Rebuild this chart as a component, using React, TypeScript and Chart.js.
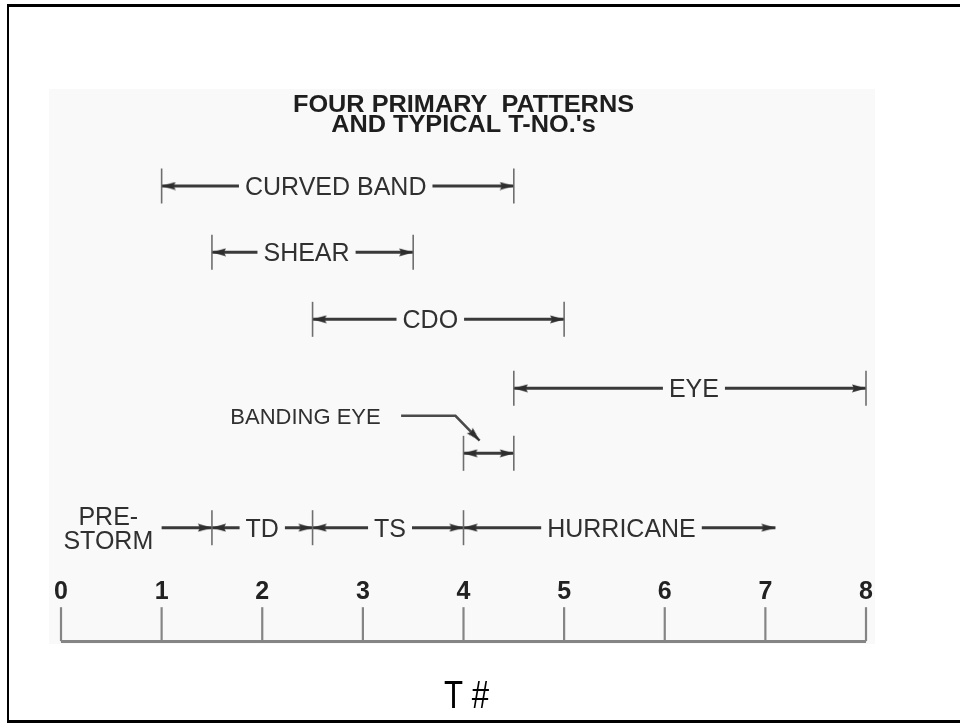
import React, { useEffect, useRef } from 'react';
import { Chart, registerables } from 'chart.js';

Chart.register(...registerables);

// ---------------- data ----------------
const T_TICKS = [0, 1, 2, 3, 4, 5, 6, 7, 8];
const TICK_LABELS = ['0', '1', '2', '3', '4', '5', '6', '7', '8'];

const PATTERN_NAMES = ['CURVED BAND', 'SHEAR', 'CDO', 'EYE'];
const PATTERN_FROM = [1, 1.5, 2.5, 4.5];
const PATTERN_TO = [4.5, 3.5, 5, 8];
const PATTERN_LABEL_AT = [2.73, 2.44, 3.67, 6.29];
const PATTERN_ROW = [0, 0.99, 1.99, 3.02];

const BANDING_NAME = 'BANDING EYE';
const BANDING_FROM = 4;
const BANDING_TO = 4.5;
const BANDING_ROW = 3.99;
const BANDING_LABEL_AT = [2.43, 3.43];
const POINTER_X = [3.38, 3.92, 4.16];
const POINTER_Y = [3.43, 3.43, 3.8];

const STAGE_NAMES = [['PRE-', 'STORM'], ['TD'], ['TS'], ['HURRICANE']];
const STAGE_FROM = [1, 1.5, 2.5, 4];
const STAGE_TO = [1.5, 2.5, 4, 7.1];
const STAGE_LABEL_AT = [0.47, 2.0, 3.27, 5.57];
const STAGE_LEFT_ARROW = [false, true, true, true];
const STAGE_BARS = [1.5, 2.5, 4];
const STAGE_ROW = 5.1;

const TICK_LABEL_ROW = 6.03;
const TICK_MARK_ROW = 6.54;
const BASE_ROW = 6.8;

const TITLE_LINES = ['FOUR PRIMARY  PATTERNS', "AND TYPICAL T-NO.'s"];
const AXIS_TITLE = 'T #';

// ---------------- styles ----------------
const PANEL = '#f9f9f9';
const INK = '#3a3a3a';
const BAR = '#6e6e6e';
const AXIS = '#858585';
const TEXT = '#303030';
const FONT = "'Liberation Sans', Arial, Helvetica, sans-serif";

const textPlugin = {
  id: 'diagramText',
  afterDatasetsDraw(chart: any) {
    const { ctx, chartArea } = chart;
    const xs = chart.scales.x;
    const ys = chart.scales.y;
    const px = (v: number) => xs.getPixelForValue(v);
    const py = (v: number) => ys.getPixelForValue(v);
    ctx.save();
    ctx.textAlign = 'center';
    ctx.textBaseline = 'alphabetic';

    const stretched = (t: string, x: number, y: number, sx: number) => {
      ctx.save();
      ctx.translate(x, y);
      ctx.scale(sx, 1);
      ctx.fillText(t, 0, 0);
      ctx.restore();
    };

    const label = (lines: string[], vx: number, vy: number, size: number, span: [number, number] | null, gap = 24) => {
      ctx.font = `${size}px ${FONT}`;
      const cx = px(vx);
      const cy = py(vy);
      const n = lines.length;
      lines.forEach((t, k) => {
        const ly = cy + (k - (n - 1) / 2) * gap;
        const w = ctx.measureText(t).width;
        if (span) {
          const l = cx - w / 2 - 6;
          const r = cx + w / 2 + 6;
          if (r > px(span[0]) && l < px(span[1])) {
            ctx.fillStyle = PANEL;
            ctx.fillRect(l, ly - size * 0.55, r - l, size * 1.1);
          }
        }
        ctx.fillStyle = TEXT;
        ctx.fillText(t, cx, ly + (size * 0.716) / 2);
      });
    };

    // title
    const cx = (chartArea.left + chartArea.right) / 2;
    ctx.fillStyle = '#1e1e1e';
    ctx.font = `bold 23px ${FONT}`;
    stretched(TITLE_LINES[0], cx, 112, 1.1);
    stretched(TITLE_LINES[1], cx, 132, 1.1);

    // pattern labels
    PATTERN_NAMES.forEach((name, i) => {
      label([name], PATTERN_LABEL_AT[i], PATTERN_ROW[i], 25, [PATTERN_FROM[i], PATTERN_TO[i]]);
    });
    // banding eye label
    label([BANDING_NAME], BANDING_LABEL_AT[0], BANDING_LABEL_AT[1], 22, null);
    // stages
    STAGE_NAMES.forEach((lines, i) => {
      label(lines, STAGE_LABEL_AT[i], STAGE_ROW, 25, [STAGE_FROM[i], STAGE_TO[i]]);
    });

    // tick labels
    ctx.font = `bold 25px ${FONT}`;
    ctx.fillStyle = '#222';
    T_TICKS.forEach((t, i) => {
      ctx.fillText(TICK_LABELS[i], px(t), py(TICK_LABEL_ROW) + (25 * 0.716) / 2);
    });

    // axis title
    ctx.fillStyle = '#000';
    ctx.font = `38px ${FONT}`;
    stretched(AXIS_TITLE, cx + 3, 708, 0.82);
    ctx.restore();
  },
};

export default function App() {
  const canvasRef = useRef<HTMLCanvasElement | null>(null);

  useEffect(() => {
    const canvas = canvasRef.current;
    if (!canvas) return;

    // arrowhead sprite: tip at the sprite centre, pointing right
    const head = document.createElement('canvas');
    head.width = 30;
    head.height = 9;
    const hc = head.getContext('2d')!;
    hc.fillStyle = '#2e2e2e';
    hc.beginPath();
    hc.moveTo(1, 0.5);
    hc.lineTo(15, 4.5);
    hc.lineTo(1, 8.5);
    hc.lineTo(3, 4.5);
    hc.closePath();
    hc.fill();

    const datasets: any[] = [];
    const heads: { x: number; y: number; r: number | null }[] = [];
    const bars: { x: number; y: number }[] = [];

    const addLine = (pts: { x: number; y: number }[], color: string, width: number) => {
      datasets.push({
        data: pts,
        showLine: true,
        borderColor: color,
        borderWidth: width,
        pointRadius: 0,
        clip: false,
        order: 3,
      });
    };

    PATTERN_NAMES.forEach((_, i) => {
      const y = PATTERN_ROW[i];
      addLine([{ x: PATTERN_FROM[i], y }, { x: PATTERN_TO[i], y }], INK, 3);
      heads.push({ x: PATTERN_FROM[i], y, r: 180 });
      heads.push({ x: PATTERN_TO[i], y, r: 0 });
      bars.push({ x: PATTERN_FROM[i], y }, { x: PATTERN_TO[i], y });
    });

    addLine([{ x: BANDING_FROM, y: BANDING_ROW }, { x: BANDING_TO, y: BANDING_ROW }], INK, 3);
    heads.push({ x: BANDING_FROM, y: BANDING_ROW, r: 180 });
    heads.push({ x: BANDING_TO, y: BANDING_ROW, r: 0 });
    bars.push({ x: BANDING_FROM, y: BANDING_ROW }, { x: BANDING_TO, y: BANDING_ROW });

    addLine(POINTER_X.map((x, i) => ({ x, y: POINTER_Y[i] })), '#4a4a4a', 2.5);
    heads.push({ x: POINTER_X[2], y: POINTER_Y[2], r: null });

    STAGE_NAMES.forEach((_, i) => {
      addLine([{ x: STAGE_FROM[i], y: STAGE_ROW }, { x: STAGE_TO[i], y: STAGE_ROW }], INK, 3);
      if (STAGE_LEFT_ARROW[i]) heads.push({ x: STAGE_FROM[i], y: STAGE_ROW, r: 180 });
      heads.push({ x: STAGE_TO[i], y: STAGE_ROW, r: 0 });
    });
    STAGE_BARS.forEach((x) => bars.push({ x, y: STAGE_ROW }));

    // axis baseline + tick marks
    addLine([{ x: T_TICKS[0], y: BASE_ROW }, { x: T_TICKS[T_TICKS.length - 1], y: BASE_ROW }], AXIS, 3);

    datasets.push({
      data: T_TICKS.map((x) => ({ x, y: TICK_MARK_ROW })),
      pointStyle: 'line',
      pointRotation: 90,
      pointRadius: 17,
      pointBorderWidth: 2.2,
      pointBorderColor: AXIS,
      borderColor: AXIS,
      clip: false,
      order: 2,
    });

    datasets.push({
      data: bars,
      pointStyle: 'line',
      pointRotation: 90,
      pointRadius: 17.5,
      pointBorderWidth: 1.6,
      pointBorderColor: BAR,
      borderColor: BAR,
      clip: false,
      order: 1,
    });

    datasets.push({
      data: heads.map((h) => ({ x: h.x, y: h.y })),
      pointStyle: head,
      pointRadius: 8,
      pointRotation: (c: any) => {
        const h = heads[c.dataIndex];
        if (!h) return 0;
        if (h.r !== null) return h.r;
        const sx = c.chart.scales.x;
        const sy = c.chart.scales.y;
        const dx = sx.getPixelForValue(POINTER_X[2]) - sx.getPixelForValue(POINTER_X[1]);
        const dy = sy.getPixelForValue(POINTER_Y[2]) - sy.getPixelForValue(POINTER_Y[1]);
        return (Math.atan2(dy, dx) * 180) / Math.PI;
      },
      clip: false,
      order: 0,
    });

    const chart = new Chart(canvas, {
      type: 'scatter',
      data: { datasets },
      options: {
        responsive: false,
        animation: false,
        devicePixelRatio: 1,
        events: [],
        layout: { padding: { left: 61, right: 94, top: 119, bottom: 68 } },
        scales: {
          x: { type: 'linear', min: 0, max: 8, display: false },
          y: { type: 'linear', min: -1, max: 7, reverse: true, display: false },
        },
        plugins: {
          legend: { display: false },
          tooltip: { enabled: false },
        },
      },
      plugins: [textPlugin],
    } as any);

    return () => chart.destroy();
  }, []);

  return (
    <div style={{ position: 'fixed', left: 0, top: 0, width: 960, height: 723, overflow: 'hidden', background: '#fff' }}>
      <div style={{ position: 'absolute', left: 49, top: 89, width: 826, height: 555, background: PANEL }} />
      <div
        style={{
          position: 'absolute',
          left: 7,
          top: 4,
          width: 1000,
          height: 719,
          boxSizing: 'border-box',
          borderTop: '3px solid #000',
          borderBottom: '3px solid #000',
          borderLeft: '2px solid #000',
        }}
      />
      <canvas
        ref={canvasRef}
        width={960}
        height={723}
        style={{ position: 'absolute', left: 0, top: 0, width: 960, height: 723 }}
      />
    </div>
  );
}
